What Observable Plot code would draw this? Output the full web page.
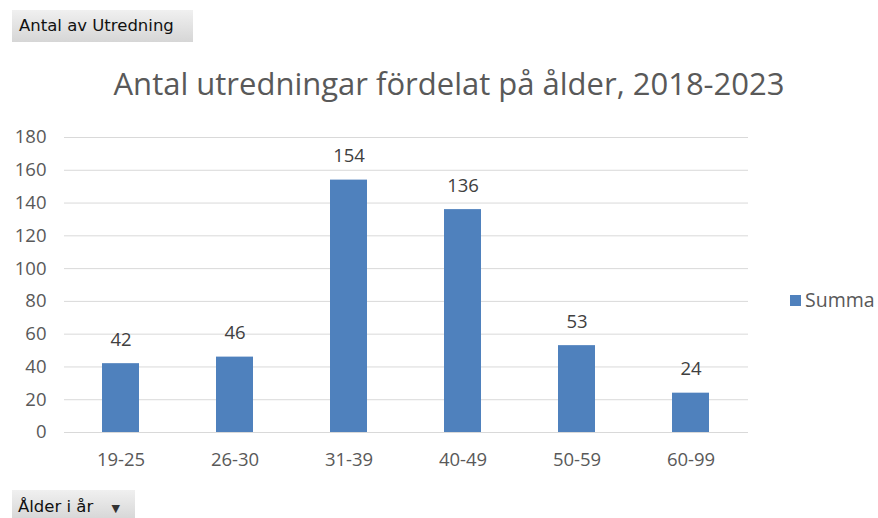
<!DOCTYPE html>
<html>
<head>
<meta charset="utf-8">
<script src="https://cdn.jsdelivr.net/npm/d3@7"></script>
<script src="https://cdn.jsdelivr.net/npm/@observablehq/plot@0.6"></script>
<style>
  html, body { margin: 0; padding: 0; background: #fff; }
  #page { position: relative; width: 878px; height: 518px; overflow: hidden; font-family: "Open Sans", "Liberation Sans", sans-serif; }
  .btn { position: absolute; background: linear-gradient(#f0f0f0, #d6d6d6); color: #111; font-family: "DejaVu Sans", sans-serif; font-size: 16.5px; padding: 0 7px; box-sizing: border-box; white-space: nowrap; }
  #title { position: absolute; left: 0; width: 898px; top: 62px; text-align: center; font-size: 31px; color: #595959; white-space: nowrap; }
  #legend { position: absolute; left: 790px; top: 287px; font-size: 19.5px; color: #595959; line-height: 26px; white-space: nowrap; }
  #legend span.sw { display: inline-block; width: 11px; height: 11px; background: #4f81bd; margin-right: 4px; vertical-align: 1px; }
  #chart { position: absolute; left: 0; top: 0; }
</style>
</head>
<body>
<div id="page">
  <div id="chart"></div>
  <div class="btn" style="left:12px; top:10px; width:181px; height:32px; line-height:32px;">Antal av Utredning</div>
  <div class="btn" style="left:12px; top:490px; width:123px; height:30px; line-height:33px; padding-left:6px;">Ålder i år <span style="font-size:11px; margin-left:13px; color:#333;">▼</span></div>
  <div id="title">Antal utredningar fördelat på ålder, 2018-2023</div>
  <div id="legend"><span class="sw"></span>Summa</div>
</div>
<script>
// Number of investigations per age group, 2018-2023
const ageGroups = ["19-25", "26-30", "31-39", "40-49", "50-59", "60-99"];
const counts = [42, 46, 154, 136, 53, 24];
const yTicks = [0, 20, 40, 60, 80, 100, 120, 140, 160, 180];

const rows = ageGroups.map((g, i) => ({ group: g, count: counts[i] }));

const gap = 0.675; // share of each category slot left empty around its bar

const chart = Plot.plot({
  width: 878,
  height: 518,
  marginLeft: 64,
  marginRight: 130,
  marginTop: 137,
  marginBottom: 86,
  style: { fontFamily: "'Open Sans', 'Liberation Sans', sans-serif", fontSize: "18.5px", color: "#595959", background: "transparent" },
  x: { domain: ageGroups, paddingInner: gap, paddingOuter: gap / 2, label: null, tickSize: 0, tickPadding: 20 },
  y: { domain: [0, 180], ticks: yTicks, label: null, tickSize: 0, tickPadding: 18 },
  marks: [
    Plot.gridY(yTicks, { stroke: "#d9d9d9", strokeOpacity: 1, strokeWidth: 1 }),
    Plot.barY(rows, { x: "group", y: "count", fill: "#4f81bd" }),
    Plot.text(rows, { x: "group", y: "count", text: d => String(d.count), dy: -24, fill: "#404040", fontSize: 18.5 })
  ]
});
document.getElementById("chart").appendChild(chart);
</script>
</body>
</html>
